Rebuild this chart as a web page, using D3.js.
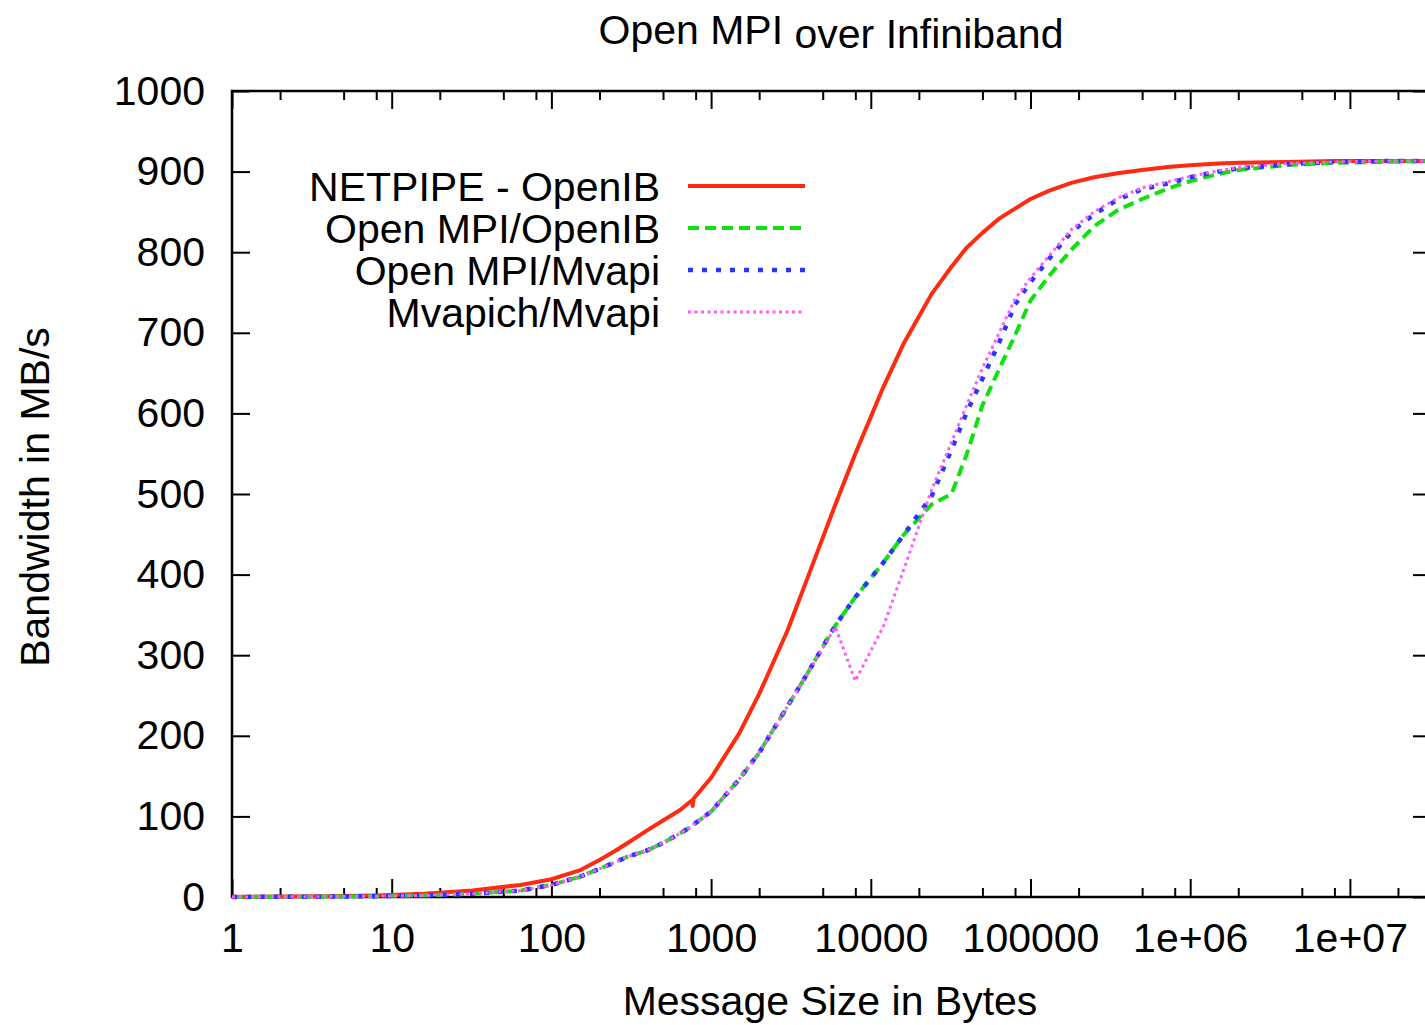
<!DOCTYPE html>
<html><body style="margin:0;background:#fff">
<meta charset="utf-8">
<style>
text { font-family: "Liberation Sans", Arial, sans-serif; font-size: 41px; fill: #000; }
.axis path { display: none; }
.axis line { stroke: #000; stroke-width: 2; }
.axis text { font-size: 41px; }
</style>
<svg width="1425" height="1025"></svg>
<script src="https://d3js.org/d3.v7.min.js"></script>
<script>

// message sizes (bytes) shared by all series
var sizes = [1, 2, 4, 8, 16, 32, 64, 100, 150, 200, 250, 300, 400, 500, 640, 760, 768, 776, 1000, 1500, 2000, 3000, 4000,
  6000, 8000, 12000, 16000, 24000, 32000, 40000, 50000, 64000, 80000, 100000, 130000, 180000, 250000,
  350000, 500000, 750000, 1e6, 1.5e6, 2e6, 4e6, 8e6, 16e6, 32e6];

// bandwidth in MB/s
var netpipeOpenIB = [0.2, 0.5, 1, 2, 4, 8, 15, 22, 33, 46, 57, 67, 83, 95, 108, 120, 113, 122, 148, 203, 252, 330, 395,
  487, 550, 633, 686, 748, 782, 806, 824, 842, 854, 866, 876, 886, 893,
  898, 902, 906, 908, 910, 911, 912, 913, 913, 913];
var ompiOpenIB = [0.1, 0.25, 0.5, 1, 2, 4, 8, 15, 25, 35, 43, 50, 58, 67, 79, 88, 89, 90, 106, 146, 179, 236, 277,
  337, 372, 415, 449, 487, 500, 550, 610, 656, 697, 740, 770, 803, 832,
  852, 866, 880, 888, 897, 902, 908, 911, 912, 913];
var ompiMvapi = [0.1, 0.25, 0.5, 1, 2, 4, 8, 15, 25, 35, 43, 50, 58, 67, 79, 88, 89, 90, 106, 146, 179, 236, 277,
  337, 372, 415, 449, 497, 555, 602, 643, 689, 735, 763, 791, 825, 847,
  865, 878, 886, 893, 900, 904, 909, 912, 913, 913];
var mvapichMvapi = [0.1, 0.25, 0.5, 1, 2, 4, 8, 15, 25, 35, 43, 50, 58, 67, 79, 88, 89, 90, 106, 146, 179, 236, 277,
  335, 268, 336, 405, 505, 564, 611, 656, 701, 742, 768, 795, 828, 850,
  867, 880, 888, 894, 901, 905, 910, 912, 913, 913];

var seriesNames = ["NETPIPE - OpenIB", "Open MPI/OpenIB", "Open MPI/Mvapi", "Mvapich/Mvapi"];

var xMajorTicks = [1, 10, 100, 1000, 10000, 100000, 1e6, 1e7];
var xTickLabels = ["1", "10", "100", "1000", "10000", "100000", "1e+06", "1e+07"];
var yTicks = [0, 100, 200, 300, 400, 500, 600, 700, 800, 900, 1000];

var styles = [
  {color: "#ff2a10", width: 4, dash: null},
  {color: "#10e010", width: 4, dash: "11,6"},
  {color: "#2a35ff", width: 4.5, dash: "5,9"},
  {color: "#ff5cff", width: 3, dash: "3,3.5"}
];

var svg = d3.select("svg"),
    margin = {top: 91, left: 232, bottom: 897, right: 1431};

var x = d3.scaleLog().domain([1, 3.22e7]).range([margin.left, margin.right]),
    y = d3.scaleLinear().domain([0, 1000]).range([margin.bottom, margin.top]);

// minor ticks at 2, 5, 8 per decade
var xMinorTicks = [];
xMajorTicks.forEach(function(d) {
  [2, 5, 8].forEach(function(m) { if (d * m < 3.22e7) xMinorTicks.push(d * m); });
});

// bottom axis
svg.append("g")
    .attr("class", "axis")
    .attr("transform", "translate(0," + margin.bottom + ")")
    .call(d3.axisBottom(x).tickValues(xMajorTicks).tickSize(-18).tickSizeOuter(0).tickPadding(26)
      .tickFormat(function(d, i) { return xTickLabels[i]; }));
svg.append("g")
    .attr("class", "axis")
    .attr("transform", "translate(0," + margin.bottom + ")")
    .call(d3.axisBottom(x).tickValues(xMinorTicks).tickSize(-9).tickSizeOuter(0).tickFormat(""));

// top axis (mirror)
svg.append("g")
    .attr("class", "axis")
    .attr("transform", "translate(0," + margin.top + ")")
    .call(d3.axisTop(x).tickValues(xMajorTicks).tickSize(-18).tickSizeOuter(0).tickFormat(""));
svg.append("g")
    .attr("class", "axis")
    .attr("transform", "translate(0," + margin.top + ")")
    .call(d3.axisTop(x).tickValues(xMinorTicks).tickSize(-9).tickSizeOuter(0).tickFormat(""));

// left and right axes
svg.append("g")
    .attr("class", "axis")
    .attr("transform", "translate(" + margin.left + ",0)")
    .call(d3.axisLeft(y).tickValues(yTicks).tickSize(-18).tickSizeOuter(0).tickPadding(27)
      .tickFormat(d3.format("d")));
svg.append("g")
    .attr("class", "axis")
    .attr("transform", "translate(" + margin.right + ",0)")
    .call(d3.axisRight(y).tickValues(yTicks).tickSize(-18).tickSizeOuter(0).tickFormat(""));

// frame
svg.append("rect")
    .attr("x", margin.left)
    .attr("y", margin.top)
    .attr("width", margin.right - margin.left)
    .attr("height", margin.bottom - margin.top)
    .attr("fill", "none")
    .attr("stroke", "#000")
    .attr("stroke-width", 2.5);

var line = d3.line()
    .x(function(d) { return x(d[0]); })
    .y(function(d) { return y(d[1]); });

var allSeries = [netpipeOpenIB, ompiOpenIB, ompiMvapi, mvapichMvapi];

allSeries.forEach(function(vals, i) {
  svg.append("path")
      .datum(sizes.map(function(s, j) { return [s, vals[j]]; }))
      .attr("fill", "none")
      .attr("stroke", styles[i].color)
      .attr("stroke-width", styles[i].width)
      .attr("stroke-dasharray", styles[i].dash)
      .attr("stroke-linejoin", "round")
      .attr("d", line);
});

// legend
var legend = svg.append("g").attr("transform", "translate(660,186)");
seriesNames.forEach(function(name, i) {
  legend.append("text")
      .attr("x", 0)
      .attr("y", i * 42 + 15)
      .attr("text-anchor", "end")
      .text(name);
  legend.append("line")
      .attr("x1", 28).attr("x2", 145)
      .attr("y1", i * 42).attr("y2", i * 42)
      .attr("stroke", styles[i].color)
      .attr("stroke-width", styles[i].width)
      .attr("stroke-dasharray", styles[i].dash);
});

// title
var title = svg.append("text")
    .attr("x", 831)
    .attr("y", 44)
    .attr("text-anchor", "middle");
title.append("tspan").text("Open MPI");
title.append("tspan").attr("dy", 4).text(" over Infiniband");

// axis labels
svg.append("text")
    .attr("transform", "translate(49,497) rotate(-90)")
    .attr("text-anchor", "middle")
    .text("Bandwidth in MB/s");

svg.append("text")
    .attr("x", 830)
    .attr("y", 1015)
    .attr("text-anchor", "middle")
    .text("Message Size in Bytes");

</script>
</body></html>
